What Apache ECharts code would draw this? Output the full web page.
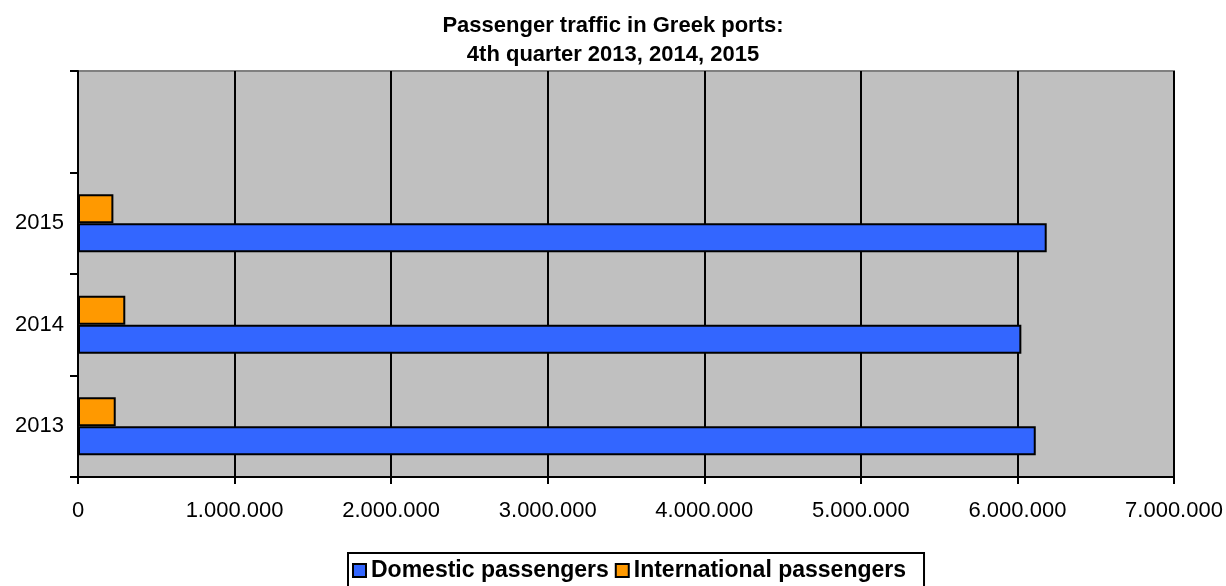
<!DOCTYPE html>
<html>
<head>
<meta charset="utf-8">
<script src="https://cdn.jsdelivr.net/npm/echarts@6/dist/echarts.min.js"></script>
<style>html,body{margin:0;padding:0;background:#fff}#c{width:1226px;height:586px}</style>
</head>
<body>
<div id="c"></div>
<script>
var categories = ['2013', '2014', '2015', ''];
var domestic = [6117000, 6025000, 6187000, null];
var international = [241000, 302000, 226000, null];
var xTicks = { min: 0, max: 7000000, interval: 1000000 };
var seriesNames = ['Domestic passengers', 'International passengers'];

var FONT = '"Liberation Sans", Arial, sans-serif';
function fmt(v) {
  return String(v).replace(/\B(?=(\d{3})+(?!\d))/g, '.');
}
var chart = echarts.init(document.getElementById('c'));
chart.setOption({
  animation: false,
  backgroundColor: '#fff',
  title: {
    text: 'Passenger traffic in Greek ports:\n4th quarter 2013, 2014, 2015',
    left: 'center',
    top: 6,
    textStyle: { fontFamily: FONT, fontSize: 22, fontWeight: 'bold', color: '#000', lineHeight: 29 }
  },
  legend: {
    data: seriesNames,
    bottom: -2,
    left: 348,
    orient: 'horizontal',
    icon: 'rect',
    itemWidth: 13,
    itemHeight: 13,
    itemGap: 6,
    padding: [6, 18, 6, 4],
    backgroundColor: '#fff',
    borderColor: '#000',
    borderWidth: 2,
    borderRadius: 0,
    itemStyle: { borderColor: '#000', borderWidth: 2 },
    textStyle: { fontFamily: FONT, fontSize: 23, fontWeight: 'bold', color: '#000' }
  },
  grid: {
    left: 78, right: 52, top: 71, bottom: 109,
    show: true, backgroundColor: '#C0C0C0', borderColor: '#808080', borderWidth: 2,
    containLabel: false
  },
  xAxis: {
    type: 'value',
    min: xTicks.min, max: xTicks.max, interval: xTicks.interval,
    axisLine: { show: true, lineStyle: { color: '#000', width: 2 } },
    axisTick: { show: true, length: 7, lineStyle: { color: '#000', width: 2 } },
    splitLine: { show: true, lineStyle: { color: '#000', width: 2 } },
    axisLabel: { fontFamily: FONT, fontSize: 22, color: '#000', margin: 23, formatter: fmt }
  },
  yAxis: {
    type: 'category',
    data: categories,
    axisLine: { show: true, lineStyle: { color: '#000', width: 2 } },
    axisTick: { show: true, length: 8, interval: 0, lineStyle: { color: '#000', width: 2 } },
    axisLabel: { fontFamily: FONT, fontSize: 22, color: '#000', margin: 14 },
    splitLine: { show: false }
  },
  series: [
    {
      name: seriesNames[1], type: 'bar', data: international,
      barGap: '0%', barCategoryGap: '43%',
      itemStyle: { color: '#FF9900', borderColor: '#000', borderWidth: 2 }
    },
    {
      name: seriesNames[0], type: 'bar', data: domestic,
      itemStyle: { color: '#3366FF', borderColor: '#000', borderWidth: 2 }
    }
  ]
});
</script>
</body>
</html>
